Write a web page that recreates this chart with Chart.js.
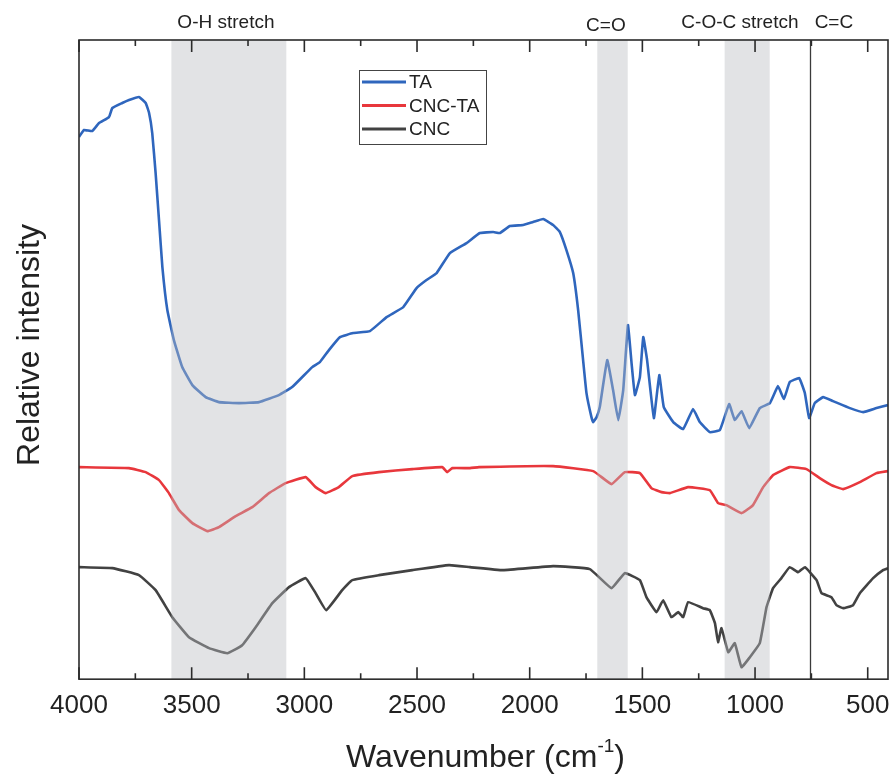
<!DOCTYPE html>
<html>
<head>
<meta charset="utf-8">
<script src="https://cdn.jsdelivr.net/npm/chart.js@4.4.1/dist/chart.umd.min.js"></script>
<style>
  html, body { margin: 0; padding: 0; background: #fff; }
  #wrap { width: 891px; height: 774px; }
</style>
</head>
<body>
<div id="wrap"><canvas id="ftir" width="891" height="774"></canvas></div>
<script>
// FTIR spectra, relative intensity in arbitrary units
const taWave = [4000, 3978, 3941, 3911, 3867, 3852, 3808, 3778, 3734, 3704, 3689, 3675, 3660, 3645, 3630, 3608, 3579, 3542, 3497, 3438, 3379, 3290, 3201, 3113, 3054, 2965, 2931, 2891, 2842, 2783, 2709, 2635, 2561, 2502, 2458, 2413, 2354, 2280, 2221, 2162, 2132, 2088, 2029, 1985, 1940, 1896, 1866, 1837, 1807, 1785, 1763, 1748, 1726, 1718, 1703, 1689, 1656, 1630, 1607, 1585, 1564, 1548, 1533, 1511, 1496, 1479, 1449, 1425, 1405, 1363, 1319, 1275, 1245, 1201, 1156, 1115, 1090, 1060, 1026, 979, 934, 898, 872, 846, 804, 779, 760, 735, 698, 654, 579, 520, 461, 410];
const taVal = [542, 549, 548, 556, 562, 571, 576, 579, 582, 576, 566, 546, 506, 459, 412, 369, 339, 312, 294, 282, 277, 276, 277, 284, 292, 312, 317, 329, 342, 346, 348, 362, 372, 391, 399, 406, 426, 436, 446, 447, 446, 453, 454, 457, 460, 454, 447, 429, 406, 369, 319, 286, 262, 257, 262, 272, 319, 289, 259, 289, 354, 316, 284, 302, 342, 319, 261, 304, 272, 257, 250, 270, 257, 247, 249, 275, 259, 268, 251, 271, 276, 293, 280, 297, 301, 286, 261, 276, 282, 278, 271, 267, 271, 274];

const cncTaWave = [4000, 3778, 3704, 3645, 3601, 3556, 3497, 3431, 3379, 3305, 3231, 3157, 3083, 2994, 2950, 2906, 2847, 2787, 2669, 2521, 2388, 2366, 2344, 2265, 2225, 1896, 1718, 1637, 1578, 1511, 1460, 1415, 1378, 1297, 1201, 1164, 1127, 1060, 1009, 964, 920, 846, 772, 713, 661, 609, 535, 461, 410];
const cncTaVal = [212, 211, 207, 199, 186, 169, 156, 148, 152, 163, 172, 186, 196, 202, 192, 186, 192, 203, 207, 210, 212, 207, 211, 211, 212, 213, 208, 195, 207, 206, 191, 187, 186, 192, 189, 176, 174, 166, 174, 192, 204, 212, 210, 201, 194, 190, 197, 206, 208];

const cncWave = [4000, 3852, 3734, 3660, 3586, 3512, 3423, 3342, 3276, 3216, 3142, 3068, 2994, 2950, 2903, 2832, 2787, 2669, 2521, 2358, 2265, 2118, 1896, 1733, 1637, 1578, 1511, 1482, 1437, 1408, 1371, 1341, 1319, 1297, 1231, 1201, 1178, 1164, 1149, 1119, 1090, 1060, 1023, 979, 949, 920, 883, 846, 809, 779, 727, 705, 661, 639, 609, 565, 535, 476, 432, 410];
const cncVal = [112, 111, 104, 89, 62, 42, 31, 26, 34, 52, 76, 92, 101, 86, 69, 89, 99, 104, 109, 114, 112, 109, 113, 110, 91, 106, 99, 82, 67, 79, 62, 67, 62, 77, 71, 69, 56, 37, 51, 27, 36, 12, 22, 36, 72, 91, 101, 112, 107, 112, 99, 86, 82, 74, 71, 74, 86, 101, 109, 111];

const seriesNames = ['TA', 'CNC-TA', 'CNC'];
const seriesColors = ['#2f66bd', '#e8373c', '#424242'];

// x axis tick labels
const xTicks = [4000, 3500, 3000, 2500, 2000, 1500, 1000, 500];

// highlighted regions and annotations (wavenumbers)
const bandFrom = [3590, 1700, 1135];
const bandTo = [3080, 1565, 935];
const markerLine = 757;
const bandLabels = ['O-H stretch', 'C=O', 'C-O-C stretch', 'C=C'];
const bandLabelAt = [3348, 1662, 1067, 650];

const FONT = '"Liberation Sans", Arial, Helvetica, sans-serif';

const toPoints = (w, v) => w.map((x, i) => ({ x: x, y: v[i] }));

const decor = {
  id: 'decor',
  afterDatasetsDraw(chart) {
    const { ctx, chartArea: a, scales: { x } } = chart;
    ctx.save();
    // shaded bands over the traces
    ctx.fillStyle = 'rgba(187,189,193,0.42)';
    bandFrom.forEach((f, i) => {
      const x1 = x.getPixelForValue(f), x2 = x.getPixelForValue(bandTo[i]);
      ctx.fillRect(Math.min(x1, x2), a.top, Math.abs(x2 - x1), a.bottom - a.top);
    });
    // C=C marker line
    ctx.strokeStyle = '#3a3a3a';
    ctx.lineWidth = 1.3;
    const mx = Math.round(x.getPixelForValue(markerLine)) + 0.5;
    ctx.beginPath();
    ctx.moveTo(mx, a.top);
    ctx.lineTo(mx, a.bottom);
    ctx.stroke();
    // frame
    ctx.strokeStyle = '#2b2b2b';
    ctx.lineWidth = 1.6;
    ctx.strokeRect(a.left, a.top, a.right - a.left, a.bottom - a.top);
    // inward ticks, top and bottom
    for (let v = 500; v <= 4000; v += 250) {
      const px = x.getPixelForValue(v);
      if (px < a.left - 1 || px > a.right + 1) continue;
      const len = v % 500 === 0 ? 12 : 6;
      ctx.beginPath();
      ctx.moveTo(px, a.bottom);
      ctx.lineTo(px, a.bottom - len);
      ctx.moveTo(px, a.top);
      ctx.lineTo(px, a.top + len);
      ctx.stroke();
    }
    ctx.restore();
  },
  afterDraw(chart) {
    const { ctx, chartArea: a, scales: { x } } = chart;
    ctx.save();
    ctx.fillStyle = '#222';
    // band labels above the plot
    ctx.font = '19px ' + FONT;
    ctx.textAlign = 'center';
    ctx.textBaseline = 'alphabetic';
    bandLabels.forEach((t, i) => {
      ctx.fillText(t, x.getPixelForValue(bandLabelAt[i]), i === 1 ? 31 : 28);
    });

    // legend box
    const lx = 359, ly = 70, lw = 127, lh = 74;
    ctx.fillStyle = '#fff';
    ctx.fillRect(lx, ly, lw, lh);
    ctx.strokeStyle = '#444';
    ctx.lineWidth = 1;
    ctx.strokeRect(lx + 0.5, ly + 0.5, lw, lh);
    ctx.font = '19px ' + FONT;
    ctx.textAlign = 'left';
    ctx.textBaseline = 'middle';
    seriesNames.forEach((n, i) => {
      const yy = 82 + i * 23.5;
      ctx.strokeStyle = seriesColors[i];
      ctx.lineWidth = 3;
      ctx.beginPath();
      ctx.moveTo(362, yy);
      ctx.lineTo(406, yy);
      ctx.stroke();
      ctx.fillStyle = '#222';
      ctx.fillText(n, 409, yy + 1);
    });

    // axis titles
    ctx.fillStyle = '#222';
    ctx.textBaseline = 'alphabetic';
    const main = 'Wavenumber (cm';
    ctx.font = '32px ' + FONT;
    const w1 = ctx.measureText(main).width;
    ctx.font = '19px ' + FONT;
    const w2 = ctx.measureText('-1').width;
    ctx.font = '32px ' + FONT;
    const w3 = ctx.measureText(')').width;
    const sx = (a.left + a.right) / 2 - (w1 + w2 + w3) / 2 + 2;
    ctx.textAlign = 'left';
    ctx.fillText(main, sx, 767);
    ctx.font = '19px ' + FONT;
    ctx.fillText('-1', sx + w1, 752);
    ctx.font = '32px ' + FONT;
    ctx.fillText(')', sx + w1 + w2, 767);

    ctx.translate(30, 345);
    ctx.rotate(-Math.PI / 2);
    ctx.textAlign = 'center';
    ctx.textBaseline = 'middle';
    ctx.font = '32px ' + FONT;
    ctx.fillText('Relative intensity', 0, 0);
    ctx.restore();
  }
};

new Chart(document.getElementById('ftir').getContext('2d'), {
  type: 'line',
  data: {
    datasets: [
      { label: seriesNames[0], data: toPoints(taWave, taVal) },
      { label: seriesNames[1], data: toPoints(cncTaWave, cncTaVal) },
      { label: seriesNames[2], data: toPoints(cncWave, cncVal) }
    ].map((d, i) => Object.assign(d, {
      borderColor: seriesColors[i],
      backgroundColor: seriesColors[i],
      borderWidth: 2.6,
      pointRadius: 0,
      tension: 0.1,
      fill: false
    }))
  },
  options: {
    responsive: false,
    animation: false,
    events: [],
    layout: { padding: { left: 79, right: 3, top: 40, bottom: 41 } },
    plugins: { legend: { display: false }, tooltip: { enabled: false } },
    scales: {
      x: {
        type: 'linear',
        reverse: true,
        min: 410,
        max: 4000,
        border: { display: false },
        grid: { display: false, drawTicks: false },
        afterBuildTicks: s => { s.ticks = xTicks.map(v => ({ value: v })); },
        ticks: {
          padding: 0,
          autoSkip: false,
          maxRotation: 0,
          color: '#222',
          font: { family: FONT, size: 26, lineHeight: 2.07 },
          callback: v => String(v)
        }
      },
      y: {
        display: false,
        min: 0,
        max: 639
      }
    }
  },
  plugins: [decor]
});
</script>
</body>
</html>
